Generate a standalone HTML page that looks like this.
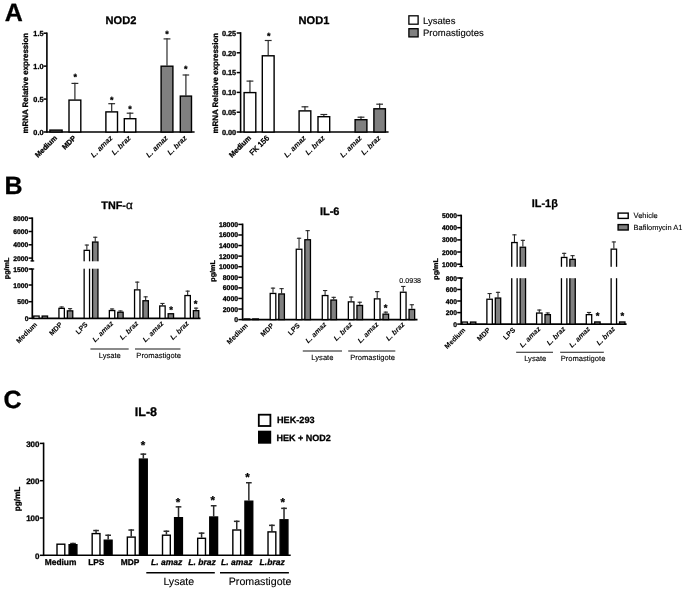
<!DOCTYPE html>
<html lang="en">
<head>
<meta charset="utf-8">
<title>NOD2 / NOD1 expression and cytokine production</title>
<style>
html,body{margin:0;padding:0;background:#fff;}
body{width:685px;height:592px;overflow:hidden;}
svg{display:block;font-family:"Liberation Sans", sans-serif;}
text{stroke:#000;stroke-width:0.3px;stroke-linejoin:round;}
text.n{stroke-width:0.12px;}
text.l{stroke-width:0.08px;}
</style>
</head>
<body>
<svg width="685" height="592" viewBox="0 0 685 592" text-rendering="geometricPrecision">
<defs><filter id="soft" x="0" y="0" width="685" height="592" filterUnits="userSpaceOnUse"><feGaussianBlur stdDeviation="0.38"/></filter></defs>
<rect x="0" y="0" width="685" height="592" fill="#fff"/>
<g filter="url(#soft)">
<text x="4.7" y="20.9" font-size="25" font-weight="bold" font-style="normal" text-anchor="start" fill="#000">A</text>
<text x="4.4" y="194.3" font-size="25" font-weight="bold" font-style="normal" text-anchor="start" fill="#000">B</text>
<text x="3.4" y="408.4" font-size="25" font-weight="bold" font-style="normal" text-anchor="start" fill="#000">C</text>
<line x1="46.9" y1="32.4" x2="46.9" y2="132.8" stroke="#000" stroke-width="1.6"/>
<line x1="46.9" y1="132" x2="194.6" y2="132" stroke="#000" stroke-width="1.6"/>
<line x1="43.5" y1="33.2" x2="46.9" y2="33.2" stroke="#000" stroke-width="1.5"/>
<text x="43.5" y="36" font-size="7.3" font-weight="bold" font-style="normal" text-anchor="end" fill="#000">1.5</text>
<line x1="43.5" y1="66.13" x2="46.9" y2="66.13" stroke="#000" stroke-width="1.5"/>
<text x="43.5" y="68.93" font-size="7.3" font-weight="bold" font-style="normal" text-anchor="end" fill="#000">1.0</text>
<line x1="43.5" y1="99.07" x2="46.9" y2="99.07" stroke="#000" stroke-width="1.5"/>
<text x="43.5" y="101.87" font-size="7.3" font-weight="bold" font-style="normal" text-anchor="end" fill="#000">0.5</text>
<line x1="43.5" y1="132" x2="46.9" y2="132" stroke="#000" stroke-width="1.5"/>
<text x="43.5" y="134.8" font-size="7.3" font-weight="bold" font-style="normal" text-anchor="end" fill="#000">0.0</text>
<text x="121" y="24" font-size="11.1" font-weight="bold" font-style="normal" text-anchor="middle" fill="#000">NOD2</text>
<text x="28.2" y="83.2" font-size="7.95" font-weight="bold" font-style="normal" text-anchor="middle" fill="#000" transform="rotate(-90 28.2 83.2)">mRNA Relative expression</text>
<rect x="49.9" y="130.1" width="12.2" height="1.9" fill="#808080" stroke="#000" stroke-width="1.4"/>
<line x1="74.9" y1="99.4" x2="74.9" y2="82.8" stroke="#2a2a2a" stroke-width="1.2"/>
<line x1="71.47" y1="83.4" x2="78.33" y2="83.4" stroke="#2a2a2a" stroke-width="1.2"/>
<rect x="69" y="100.1" width="11.8" height="31.9" fill="#fff" stroke="#000" stroke-width="1.4"/>
<line x1="111.7" y1="111.2" x2="111.7" y2="103.1" stroke="#2a2a2a" stroke-width="1.2"/>
<line x1="108.32" y1="103.7" x2="115.08" y2="103.7" stroke="#2a2a2a" stroke-width="1.2"/>
<rect x="105.9" y="111.9" width="11.6" height="20.1" fill="#fff" stroke="#000" stroke-width="1.4"/>
<line x1="130.05" y1="118" x2="130.05" y2="112.6" stroke="#2a2a2a" stroke-width="1.2"/>
<line x1="126.7" y1="113.2" x2="133.4" y2="113.2" stroke="#2a2a2a" stroke-width="1.2"/>
<rect x="124.3" y="118.7" width="11.5" height="13.3" fill="#fff" stroke="#000" stroke-width="1.4"/>
<line x1="167" y1="65.5" x2="167" y2="38.3" stroke="#2a2a2a" stroke-width="1.2"/>
<line x1="163.57" y1="38.9" x2="170.43" y2="38.9" stroke="#2a2a2a" stroke-width="1.2"/>
<rect x="161.1" y="66.2" width="11.8" height="65.8" fill="#808080" stroke="#000" stroke-width="1.4"/>
<line x1="185.9" y1="95.4" x2="185.9" y2="74.4" stroke="#2a2a2a" stroke-width="1.2"/>
<line x1="182.62" y1="75" x2="189.18" y2="75" stroke="#2a2a2a" stroke-width="1.2"/>
<rect x="180.3" y="96.1" width="11.2" height="35.9" fill="#808080" stroke="#000" stroke-width="1.4"/>
<text x="75.2" y="80.47" font-size="9" font-weight="bold" font-style="normal" text-anchor="middle" fill="#000">*</text>
<text x="111.7" y="103.27" font-size="9" font-weight="bold" font-style="normal" text-anchor="middle" fill="#000">*</text>
<text x="130.1" y="111.77" font-size="9" font-weight="bold" font-style="normal" text-anchor="middle" fill="#000">*</text>
<text x="167" y="37.37" font-size="9" font-weight="bold" font-style="normal" text-anchor="middle" fill="#000">*</text>
<text x="185.8" y="71.77" font-size="9" font-weight="bold" font-style="normal" text-anchor="middle" fill="#000">*</text>
<text x="57.5" y="138.5" font-size="7.3" font-weight="bold" font-style="normal" text-anchor="end" fill="#000" transform="rotate(-45 57.5 138.5)">Medium</text>
<text x="76.4" y="138.5" font-size="7.3" font-weight="bold" font-style="normal" text-anchor="end" fill="#000" transform="rotate(-45 76.4 138.5)">MDP</text>
<text x="113.2" y="138.5" font-size="7.5" font-weight="bold" font-style="italic" text-anchor="end" fill="#000" transform="rotate(-45 113.2 138.5)" class="l">L. amaz</text>
<text x="131.5" y="138.5" font-size="7.5" font-weight="bold" font-style="italic" text-anchor="end" fill="#000" transform="rotate(-45 131.5 138.5)" class="l">L. braz</text>
<text x="168.5" y="138.5" font-size="7.5" font-weight="bold" font-style="italic" text-anchor="end" fill="#000" transform="rotate(-45 168.5 138.5)" class="l">L. amaz</text>
<text x="187.4" y="138.5" font-size="7.5" font-weight="bold" font-style="italic" text-anchor="end" fill="#000" transform="rotate(-45 187.4 138.5)" class="l">L. braz</text>
<line x1="240.6" y1="32.2" x2="240.6" y2="132.8" stroke="#000" stroke-width="1.6"/>
<line x1="240.6" y1="132" x2="388.6" y2="132" stroke="#000" stroke-width="1.6"/>
<line x1="236.7" y1="33" x2="240.6" y2="33" stroke="#000" stroke-width="1.5"/>
<text x="236.1" y="35.8" font-size="7.3" font-weight="bold" font-style="normal" text-anchor="end" fill="#000">0.25</text>
<line x1="236.7" y1="52.8" x2="240.6" y2="52.8" stroke="#000" stroke-width="1.5"/>
<text x="236.1" y="55.6" font-size="7.3" font-weight="bold" font-style="normal" text-anchor="end" fill="#000">0.20</text>
<line x1="236.7" y1="72.6" x2="240.6" y2="72.6" stroke="#000" stroke-width="1.5"/>
<text x="236.1" y="75.4" font-size="7.3" font-weight="bold" font-style="normal" text-anchor="end" fill="#000">0.15</text>
<line x1="236.7" y1="92.4" x2="240.6" y2="92.4" stroke="#000" stroke-width="1.5"/>
<text x="236.1" y="95.2" font-size="7.3" font-weight="bold" font-style="normal" text-anchor="end" fill="#000">0.10</text>
<line x1="236.7" y1="112.2" x2="240.6" y2="112.2" stroke="#000" stroke-width="1.5"/>
<text x="236.1" y="115" font-size="7.3" font-weight="bold" font-style="normal" text-anchor="end" fill="#000">0.05</text>
<line x1="236.7" y1="132" x2="240.6" y2="132" stroke="#000" stroke-width="1.5"/>
<text x="236.1" y="134.8" font-size="7.3" font-weight="bold" font-style="normal" text-anchor="end" fill="#000">0.00</text>
<text x="314" y="23.8" font-size="11.1" font-weight="bold" font-style="normal" text-anchor="middle" fill="#000">NOD1</text>
<text x="218" y="83.2" font-size="7.95" font-weight="bold" font-style="normal" text-anchor="middle" fill="#000" transform="rotate(-90 218 83.2)">mRNA Relative expression</text>
<line x1="249.95" y1="91.9" x2="249.95" y2="80.5" stroke="#2a2a2a" stroke-width="1.2"/>
<line x1="246.54" y1="81.1" x2="253.36" y2="81.1" stroke="#2a2a2a" stroke-width="1.2"/>
<rect x="244.1" y="92.6" width="11.7" height="39.4" fill="#fff" stroke="#000" stroke-width="1.4"/>
<line x1="268.2" y1="55.1" x2="268.2" y2="39.9" stroke="#2a2a2a" stroke-width="1.2"/>
<line x1="264.77" y1="40.5" x2="271.63" y2="40.5" stroke="#2a2a2a" stroke-width="1.2"/>
<rect x="262.3" y="55.8" width="11.8" height="76.2" fill="#fff" stroke="#000" stroke-width="1.4"/>
<line x1="304.95" y1="110.2" x2="304.95" y2="106.2" stroke="#2a2a2a" stroke-width="1.2"/>
<line x1="301.54" y1="106.8" x2="308.36" y2="106.8" stroke="#2a2a2a" stroke-width="1.2"/>
<rect x="299.1" y="110.9" width="11.7" height="21.1" fill="#fff" stroke="#000" stroke-width="1.4"/>
<line x1="323.85" y1="116" x2="323.85" y2="113.9" stroke="#2a2a2a" stroke-width="1.2"/>
<line x1="320.44" y1="114.5" x2="327.26" y2="114.5" stroke="#2a2a2a" stroke-width="1.2"/>
<rect x="318" y="116.7" width="11.7" height="15.3" fill="#fff" stroke="#000" stroke-width="1.4"/>
<line x1="361" y1="119" x2="361" y2="116.6" stroke="#2a2a2a" stroke-width="1.2"/>
<line x1="357.57" y1="117.2" x2="364.43" y2="117.2" stroke="#2a2a2a" stroke-width="1.2"/>
<rect x="355.1" y="119.7" width="11.8" height="12.3" fill="#808080" stroke="#000" stroke-width="1.4"/>
<line x1="379.65" y1="108.1" x2="379.65" y2="103.6" stroke="#2a2a2a" stroke-width="1.2"/>
<line x1="376.3" y1="104.2" x2="383" y2="104.2" stroke="#2a2a2a" stroke-width="1.2"/>
<rect x="373.9" y="108.8" width="11.5" height="23.2" fill="#808080" stroke="#000" stroke-width="1.4"/>
<text x="268.8" y="39.27" font-size="9" font-weight="bold" font-style="normal" text-anchor="middle" fill="#000">*</text>
<text x="251.5" y="138.5" font-size="7.3" font-weight="bold" font-style="normal" text-anchor="end" fill="#000" transform="rotate(-45 251.5 138.5)">Medium</text>
<text x="269.7" y="138.5" font-size="7.6" font-weight="normal" font-style="normal" text-anchor="end" fill="#000" transform="rotate(-45 269.7 138.5)" style="stroke-width:0.42px" class="n">FK 156</text>
<text x="306.5" y="138.5" font-size="7.5" font-weight="bold" font-style="italic" text-anchor="end" fill="#000" transform="rotate(-45 306.5 138.5)" class="l">L. amaz</text>
<text x="325.3" y="138.5" font-size="7.5" font-weight="bold" font-style="italic" text-anchor="end" fill="#000" transform="rotate(-45 325.3 138.5)" class="l">L. braz</text>
<text x="362.5" y="138.5" font-size="7.5" font-weight="bold" font-style="italic" text-anchor="end" fill="#000" transform="rotate(-45 362.5 138.5)" class="l">L. amaz</text>
<text x="381.1" y="138.5" font-size="7.5" font-weight="bold" font-style="italic" text-anchor="end" fill="#000" transform="rotate(-45 381.1 138.5)" class="l">L. braz</text>
<rect x="408.9" y="15.8" width="9.2" height="8.4" fill="#fff" stroke="#000" stroke-width="1.3"/>
<rect x="408.9" y="28.7" width="9.2" height="8.2" fill="#808080" stroke="#000" stroke-width="1.3"/>
<text x="423" y="23.5" font-size="9.5" font-weight="normal" font-style="normal" text-anchor="start" fill="#000" class="n">Lysates</text>
<text x="423" y="35.8" font-size="9.5" font-weight="normal" font-style="normal" text-anchor="start" fill="#000" class="n">Promastigotes</text>
<line x1="32.3" y1="217.35" x2="32.3" y2="261.3" stroke="#000" stroke-width="1.7"/>
<line x1="32.3" y1="269" x2="32.3" y2="319.15" stroke="#000" stroke-width="1.7"/>
<line x1="30.5" y1="260.9" x2="34.2" y2="260.9" stroke="#000" stroke-width="1.3"/>
<line x1="30.5" y1="269" x2="34.2" y2="269" stroke="#000" stroke-width="1.3"/>
<line x1="32.3" y1="318.3" x2="200.5" y2="318.3" stroke="#000" stroke-width="1.7"/>
<line x1="28.6" y1="218.2" x2="32.3" y2="218.2" stroke="#000" stroke-width="1.5"/>
<text x="28.4" y="220.7" font-size="6.75" font-weight="bold" font-style="normal" text-anchor="end" fill="#000">8000</text>
<line x1="28.6" y1="231.5" x2="32.3" y2="231.5" stroke="#000" stroke-width="1.5"/>
<text x="28.4" y="234" font-size="6.75" font-weight="bold" font-style="normal" text-anchor="end" fill="#000">6000</text>
<line x1="28.6" y1="244.8" x2="32.3" y2="244.8" stroke="#000" stroke-width="1.5"/>
<text x="28.4" y="247.3" font-size="6.75" font-weight="bold" font-style="normal" text-anchor="end" fill="#000">4000</text>
<line x1="28.6" y1="258.1" x2="32.3" y2="258.1" stroke="#000" stroke-width="1.5"/>
<text x="28.4" y="260.6" font-size="6.75" font-weight="bold" font-style="normal" text-anchor="end" fill="#000">2000</text>
<line x1="28.6" y1="269" x2="32.3" y2="269" stroke="#000" stroke-width="1.5"/>
<text x="28.4" y="271.5" font-size="6.75" font-weight="bold" font-style="normal" text-anchor="end" fill="#000">1500</text>
<line x1="28.6" y1="285" x2="32.3" y2="285" stroke="#000" stroke-width="1.5"/>
<text x="28.4" y="287.5" font-size="6.75" font-weight="bold" font-style="normal" text-anchor="end" fill="#000">1000</text>
<line x1="28.6" y1="301.7" x2="32.3" y2="301.7" stroke="#000" stroke-width="1.5"/>
<text x="28.4" y="304.2" font-size="6.75" font-weight="bold" font-style="normal" text-anchor="end" fill="#000">500</text>
<line x1="28.6" y1="318.3" x2="32.3" y2="318.3" stroke="#000" stroke-width="1.5"/>
<text x="28.4" y="320.8" font-size="6.75" font-weight="bold" font-style="normal" text-anchor="end" fill="#000">0</text>
<text transform="translate(9.3 268.4) rotate(-90) scale(1.04 1)" font-size="6.9" font-weight="bold" text-anchor="middle">pg/mL</text>
<text x="101.3" y="209.1" font-size="10.8" font-weight="bold">TNF-<tspan font-weight="normal" font-size="11.7">&#945;</tspan></text>
<rect x="33.75" y="316.05" width="5.4" height="2.25" fill="#fff" stroke="#000" stroke-width="1.3"/>
<rect x="42.15" y="316.05" width="5.4" height="2.25" fill="#808080" stroke="#000" stroke-width="1.3"/>
<line x1="61.65" y1="307.7" x2="61.65" y2="306.4" stroke="#2a2a2a" stroke-width="1.1"/>
<line x1="59.57" y1="306.95" x2="63.73" y2="306.95" stroke="#2a2a2a" stroke-width="1.1"/>
<rect x="58.95" y="308.35" width="5.4" height="9.95" fill="#fff" stroke="#000" stroke-width="1.3"/>
<line x1="70.05" y1="310.2" x2="70.05" y2="308.1" stroke="#2a2a2a" stroke-width="1.1"/>
<line x1="67.97" y1="308.65" x2="72.13" y2="308.65" stroke="#2a2a2a" stroke-width="1.1"/>
<rect x="67.35" y="310.85" width="5.4" height="7.45" fill="#808080" stroke="#000" stroke-width="1.3"/>
<line x1="86.85" y1="249.7" x2="86.85" y2="244.5" stroke="#2a2a2a" stroke-width="1.1"/>
<line x1="84.77" y1="245.05" x2="88.93" y2="245.05" stroke="#2a2a2a" stroke-width="1.1"/>
<rect x="84.15" y="250.35" width="5.4" height="67.95" fill="#fff" stroke="#000" stroke-width="1.3"/>
<line x1="95.25" y1="241.4" x2="95.25" y2="236.7" stroke="#2a2a2a" stroke-width="1.1"/>
<line x1="93.17" y1="237.25" x2="97.33" y2="237.25" stroke="#2a2a2a" stroke-width="1.1"/>
<rect x="92.55" y="242.05" width="5.4" height="76.25" fill="#808080" stroke="#000" stroke-width="1.3"/>
<line x1="112.05" y1="309.9" x2="112.05" y2="308.4" stroke="#2a2a2a" stroke-width="1.1"/>
<line x1="109.97" y1="308.95" x2="114.13" y2="308.95" stroke="#2a2a2a" stroke-width="1.1"/>
<rect x="109.35" y="310.55" width="5.4" height="7.75" fill="#fff" stroke="#000" stroke-width="1.3"/>
<line x1="120.45" y1="311.6" x2="120.45" y2="310.4" stroke="#2a2a2a" stroke-width="1.1"/>
<line x1="118.37" y1="310.95" x2="122.53" y2="310.95" stroke="#2a2a2a" stroke-width="1.1"/>
<rect x="117.75" y="312.25" width="5.4" height="6.05" fill="#808080" stroke="#000" stroke-width="1.3"/>
<line x1="137.25" y1="289.2" x2="137.25" y2="281.6" stroke="#2a2a2a" stroke-width="1.1"/>
<line x1="135.17" y1="282.15" x2="139.33" y2="282.15" stroke="#2a2a2a" stroke-width="1.1"/>
<rect x="134.55" y="289.85" width="5.4" height="28.45" fill="#fff" stroke="#000" stroke-width="1.3"/>
<line x1="145.65" y1="300.1" x2="145.65" y2="296.3" stroke="#2a2a2a" stroke-width="1.1"/>
<line x1="143.57" y1="296.85" x2="147.73" y2="296.85" stroke="#2a2a2a" stroke-width="1.1"/>
<rect x="142.95" y="300.75" width="5.4" height="17.55" fill="#808080" stroke="#000" stroke-width="1.3"/>
<line x1="162.45" y1="305.3" x2="162.45" y2="302.9" stroke="#2a2a2a" stroke-width="1.1"/>
<line x1="160.37" y1="303.45" x2="164.53" y2="303.45" stroke="#2a2a2a" stroke-width="1.1"/>
<rect x="159.75" y="305.95" width="5.4" height="12.35" fill="#fff" stroke="#000" stroke-width="1.3"/>
<rect x="168.15" y="313.75" width="5.4" height="4.55" fill="#808080" stroke="#000" stroke-width="1.3"/>
<line x1="187.65" y1="294.9" x2="187.65" y2="290.6" stroke="#2a2a2a" stroke-width="1.1"/>
<line x1="185.57" y1="291.15" x2="189.73" y2="291.15" stroke="#2a2a2a" stroke-width="1.1"/>
<rect x="184.95" y="295.55" width="5.4" height="22.75" fill="#fff" stroke="#000" stroke-width="1.3"/>
<line x1="196.05" y1="310" x2="196.05" y2="307.6" stroke="#2a2a2a" stroke-width="1.1"/>
<line x1="193.97" y1="308.15" x2="198.13" y2="308.15" stroke="#2a2a2a" stroke-width="1.1"/>
<rect x="193.35" y="310.65" width="5.4" height="7.65" fill="#808080" stroke="#000" stroke-width="1.3"/>
<rect x="82" y="261.3" width="18.5" height="7.4" fill="#fff"/>
<text x="171.2" y="313.26" font-size="9.5" font-weight="bold" font-style="normal" text-anchor="middle" fill="#000">*</text>
<text x="195.6" y="307.36" font-size="9.5" font-weight="bold" font-style="normal" text-anchor="middle" fill="#000">*</text>
<text x="37.7" y="325" font-size="7" font-weight="bold" font-style="normal" text-anchor="end" fill="#000" transform="rotate(-45 37.7 325)" class="l">Medium</text>
<text x="62.9" y="325" font-size="7" font-weight="bold" font-style="normal" text-anchor="end" fill="#000" transform="rotate(-45 62.9 325)" class="l">MDP</text>
<text x="88.1" y="325" font-size="7" font-weight="bold" font-style="normal" text-anchor="end" fill="#000" transform="rotate(-45 88.1 325)" class="l">LPS</text>
<text x="113.7" y="324" font-size="7.15" font-weight="bold" font-style="italic" text-anchor="end" fill="#000" transform="rotate(-45 113.7 324)" class="l">L. amaz</text>
<text x="138.9" y="324" font-size="7.15" font-weight="bold" font-style="italic" text-anchor="end" fill="#000" transform="rotate(-45 138.9 324)" class="l">L. braz</text>
<text x="164.1" y="324" font-size="7.15" font-weight="bold" font-style="italic" text-anchor="end" fill="#000" transform="rotate(-45 164.1 324)" class="l">L. amaz</text>
<text x="189.3" y="324" font-size="7.15" font-weight="bold" font-style="italic" text-anchor="end" fill="#000" transform="rotate(-45 189.3 324)" class="l">L. braz</text>
<line x1="90.4" y1="349" x2="128.7" y2="349" stroke="#1a1a1a" stroke-width="1.15"/>
<text x="109.8" y="357.8" font-size="7.6" font-weight="normal" font-style="normal" text-anchor="middle" fill="#000" class="n">Lysate</text>
<line x1="135" y1="349" x2="180.4" y2="349" stroke="#1a1a1a" stroke-width="1.15"/>
<text x="158.7" y="357.8" font-size="7.6" font-weight="normal" font-style="normal" text-anchor="middle" fill="#000" class="n">Promastigote</text>
<line x1="242.6" y1="223.55" x2="242.6" y2="320.45" stroke="#000" stroke-width="1.7"/>
<line x1="242.6" y1="319.6" x2="417.5" y2="319.6" stroke="#000" stroke-width="1.7"/>
<line x1="238.3" y1="224.4" x2="242.6" y2="224.4" stroke="#000" stroke-width="1.5"/>
<text x="238" y="226.9" font-size="6.85" font-weight="bold" font-style="normal" text-anchor="end" fill="#000">18000</text>
<line x1="238.3" y1="234.98" x2="242.6" y2="234.98" stroke="#000" stroke-width="1.5"/>
<text x="238" y="237.48" font-size="6.85" font-weight="bold" font-style="normal" text-anchor="end" fill="#000">16000</text>
<line x1="238.3" y1="245.56" x2="242.6" y2="245.56" stroke="#000" stroke-width="1.5"/>
<text x="238" y="248.06" font-size="6.85" font-weight="bold" font-style="normal" text-anchor="end" fill="#000">14000</text>
<line x1="238.3" y1="256.13" x2="242.6" y2="256.13" stroke="#000" stroke-width="1.5"/>
<text x="238" y="258.63" font-size="6.85" font-weight="bold" font-style="normal" text-anchor="end" fill="#000">12000</text>
<line x1="238.3" y1="266.71" x2="242.6" y2="266.71" stroke="#000" stroke-width="1.5"/>
<text x="238" y="269.21" font-size="6.85" font-weight="bold" font-style="normal" text-anchor="end" fill="#000">10000</text>
<line x1="238.3" y1="277.29" x2="242.6" y2="277.29" stroke="#000" stroke-width="1.5"/>
<text x="238" y="279.79" font-size="6.85" font-weight="bold" font-style="normal" text-anchor="end" fill="#000">8000</text>
<line x1="238.3" y1="287.87" x2="242.6" y2="287.87" stroke="#000" stroke-width="1.5"/>
<text x="238" y="290.37" font-size="6.85" font-weight="bold" font-style="normal" text-anchor="end" fill="#000">6000</text>
<line x1="238.3" y1="298.44" x2="242.6" y2="298.44" stroke="#000" stroke-width="1.5"/>
<text x="238" y="300.94" font-size="6.85" font-weight="bold" font-style="normal" text-anchor="end" fill="#000">4000</text>
<line x1="238.3" y1="309.02" x2="242.6" y2="309.02" stroke="#000" stroke-width="1.5"/>
<text x="238" y="311.52" font-size="6.85" font-weight="bold" font-style="normal" text-anchor="end" fill="#000">2000</text>
<line x1="238.3" y1="319.6" x2="242.6" y2="319.6" stroke="#000" stroke-width="1.5"/>
<text x="238" y="322.1" font-size="6.85" font-weight="bold" font-style="normal" text-anchor="end" fill="#000">0</text>
<text transform="translate(214.5 271) rotate(-90) scale(1.04 1)" font-size="6.9" font-weight="bold" text-anchor="middle">pg/mL</text>
<text x="329.7" y="215.2" font-size="11" font-weight="bold" font-style="normal" text-anchor="middle" fill="#000">IL-6</text>
<rect x="244.15" y="318.95" width="5.6" height="0.65" fill="#fff" stroke="#000" stroke-width="1.3"/>
<rect x="252.75" y="318.95" width="5.6" height="0.65" fill="#808080" stroke="#000" stroke-width="1.3"/>
<line x1="273" y1="292.8" x2="273" y2="287.6" stroke="#2a2a2a" stroke-width="1.1"/>
<line x1="270.86" y1="288.15" x2="275.14" y2="288.15" stroke="#2a2a2a" stroke-width="1.1"/>
<rect x="270.2" y="293.45" width="5.6" height="26.15" fill="#fff" stroke="#000" stroke-width="1.3"/>
<line x1="281.6" y1="293.3" x2="281.6" y2="288.1" stroke="#2a2a2a" stroke-width="1.1"/>
<line x1="279.46" y1="288.65" x2="283.74" y2="288.65" stroke="#2a2a2a" stroke-width="1.1"/>
<rect x="278.8" y="293.95" width="5.6" height="25.65" fill="#808080" stroke="#000" stroke-width="1.3"/>
<line x1="299.05" y1="248.6" x2="299.05" y2="237.7" stroke="#2a2a2a" stroke-width="1.1"/>
<line x1="296.91" y1="238.25" x2="301.19" y2="238.25" stroke="#2a2a2a" stroke-width="1.1"/>
<rect x="296.25" y="249.25" width="5.6" height="70.35" fill="#fff" stroke="#000" stroke-width="1.3"/>
<line x1="307.65" y1="239.1" x2="307.65" y2="230.1" stroke="#2a2a2a" stroke-width="1.1"/>
<line x1="305.51" y1="230.65" x2="309.79" y2="230.65" stroke="#2a2a2a" stroke-width="1.1"/>
<rect x="304.85" y="239.75" width="5.6" height="79.85" fill="#808080" stroke="#000" stroke-width="1.3"/>
<line x1="325.1" y1="294.9" x2="325.1" y2="290" stroke="#2a2a2a" stroke-width="1.1"/>
<line x1="322.96" y1="290.55" x2="327.24" y2="290.55" stroke="#2a2a2a" stroke-width="1.1"/>
<rect x="322.3" y="295.55" width="5.6" height="24.05" fill="#fff" stroke="#000" stroke-width="1.3"/>
<line x1="333.7" y1="299.4" x2="333.7" y2="296.8" stroke="#2a2a2a" stroke-width="1.1"/>
<line x1="331.56" y1="297.35" x2="335.84" y2="297.35" stroke="#2a2a2a" stroke-width="1.1"/>
<rect x="330.9" y="300.05" width="5.6" height="19.55" fill="#808080" stroke="#000" stroke-width="1.3"/>
<line x1="351.15" y1="301.2" x2="351.15" y2="296.5" stroke="#2a2a2a" stroke-width="1.1"/>
<line x1="349.01" y1="297.05" x2="353.29" y2="297.05" stroke="#2a2a2a" stroke-width="1.1"/>
<rect x="348.35" y="301.85" width="5.6" height="17.75" fill="#fff" stroke="#000" stroke-width="1.3"/>
<line x1="359.75" y1="304.8" x2="359.75" y2="301.7" stroke="#2a2a2a" stroke-width="1.1"/>
<line x1="357.61" y1="302.25" x2="361.89" y2="302.25" stroke="#2a2a2a" stroke-width="1.1"/>
<rect x="356.95" y="305.45" width="5.6" height="14.15" fill="#808080" stroke="#000" stroke-width="1.3"/>
<line x1="377.2" y1="298.2" x2="377.2" y2="291.1" stroke="#2a2a2a" stroke-width="1.1"/>
<line x1="375.06" y1="291.65" x2="379.34" y2="291.65" stroke="#2a2a2a" stroke-width="1.1"/>
<rect x="374.4" y="298.85" width="5.6" height="20.75" fill="#fff" stroke="#000" stroke-width="1.3"/>
<line x1="385.8" y1="313.5" x2="385.8" y2="311.6" stroke="#2a2a2a" stroke-width="1.1"/>
<line x1="383.66" y1="312.15" x2="387.94" y2="312.15" stroke="#2a2a2a" stroke-width="1.1"/>
<rect x="383" y="314.15" width="5.6" height="5.45" fill="#808080" stroke="#000" stroke-width="1.3"/>
<line x1="403.25" y1="291.6" x2="403.25" y2="285.9" stroke="#2a2a2a" stroke-width="1.1"/>
<line x1="401.11" y1="286.45" x2="405.39" y2="286.45" stroke="#2a2a2a" stroke-width="1.1"/>
<rect x="400.45" y="292.25" width="5.6" height="27.35" fill="#fff" stroke="#000" stroke-width="1.3"/>
<line x1="411.85" y1="308.8" x2="411.85" y2="304.2" stroke="#2a2a2a" stroke-width="1.1"/>
<line x1="409.71" y1="304.75" x2="413.99" y2="304.75" stroke="#2a2a2a" stroke-width="1.1"/>
<rect x="409.05" y="309.45" width="5.6" height="10.15" fill="#808080" stroke="#000" stroke-width="1.3"/>
<text x="385.6" y="310.96" font-size="9.5" font-weight="bold" font-style="normal" text-anchor="middle" fill="#000">*</text>
<text x="410.2" y="282.9" font-size="7.1" font-weight="normal" font-style="normal" text-anchor="middle" fill="#000" class="n">0.0938</text>
<text x="248.3" y="326" font-size="7" font-weight="bold" font-style="normal" text-anchor="end" fill="#000" transform="rotate(-45 248.3 326)" class="l">Medium</text>
<text x="274.35" y="326" font-size="7" font-weight="bold" font-style="normal" text-anchor="end" fill="#000" transform="rotate(-45 274.35 326)" class="l">MDP</text>
<text x="300.4" y="326" font-size="7" font-weight="bold" font-style="normal" text-anchor="end" fill="#000" transform="rotate(-45 300.4 326)" class="l">LPS</text>
<text x="326.85" y="325" font-size="7.15" font-weight="bold" font-style="italic" text-anchor="end" fill="#000" transform="rotate(-45 326.85 325)" class="l">L. amaz</text>
<text x="352.9" y="325" font-size="7.15" font-weight="bold" font-style="italic" text-anchor="end" fill="#000" transform="rotate(-45 352.9 325)" class="l">L. braz</text>
<text x="378.95" y="325" font-size="7.15" font-weight="bold" font-style="italic" text-anchor="end" fill="#000" transform="rotate(-45 378.95 325)" class="l">L. amaz</text>
<text x="405" y="325" font-size="7.15" font-weight="bold" font-style="italic" text-anchor="end" fill="#000" transform="rotate(-45 405 325)" class="l">L. braz</text>
<line x1="302.8" y1="351" x2="342" y2="351" stroke="#1a1a1a" stroke-width="1.15"/>
<text x="322.4" y="360.4" font-size="7.6" font-weight="normal" font-style="normal" text-anchor="middle" fill="#000" class="n">Lysate</text>
<line x1="348.2" y1="351" x2="395.3" y2="351" stroke="#1a1a1a" stroke-width="1.15"/>
<text x="372.6" y="360.4" font-size="7.6" font-weight="normal" font-style="normal" text-anchor="middle" fill="#000" class="n">Promastigote</text>
<line x1="461.2" y1="214.65" x2="461.2" y2="266.6" stroke="#000" stroke-width="1.7"/>
<line x1="461.2" y1="278" x2="461.2" y2="324.95" stroke="#000" stroke-width="1.7"/>
<line x1="459.4" y1="266.5" x2="463.1" y2="266.5" stroke="#000" stroke-width="1.3"/>
<line x1="459.4" y1="278" x2="463.1" y2="278" stroke="#000" stroke-width="1.3"/>
<line x1="461.2" y1="324.1" x2="626.6" y2="324.1" stroke="#000" stroke-width="1.7"/>
<line x1="457.2" y1="215.5" x2="461.2" y2="215.5" stroke="#000" stroke-width="1.5"/>
<text x="457" y="218" font-size="6.75" font-weight="bold" font-style="normal" text-anchor="end" fill="#000">5000</text>
<line x1="457.2" y1="227.7" x2="461.2" y2="227.7" stroke="#000" stroke-width="1.5"/>
<text x="457" y="230.2" font-size="6.75" font-weight="bold" font-style="normal" text-anchor="end" fill="#000">4000</text>
<line x1="457.2" y1="239.9" x2="461.2" y2="239.9" stroke="#000" stroke-width="1.5"/>
<text x="457" y="242.4" font-size="6.75" font-weight="bold" font-style="normal" text-anchor="end" fill="#000">3000</text>
<line x1="457.2" y1="252" x2="461.2" y2="252" stroke="#000" stroke-width="1.5"/>
<text x="457" y="254.5" font-size="6.75" font-weight="bold" font-style="normal" text-anchor="end" fill="#000">2000</text>
<line x1="457.2" y1="264.2" x2="461.2" y2="264.2" stroke="#000" stroke-width="1.5"/>
<text x="457" y="266.7" font-size="6.75" font-weight="bold" font-style="normal" text-anchor="end" fill="#000">1000</text>
<line x1="457.2" y1="278" x2="461.2" y2="278" stroke="#000" stroke-width="1.5"/>
<text x="457" y="280.5" font-size="6.75" font-weight="bold" font-style="normal" text-anchor="end" fill="#000">800</text>
<line x1="457.2" y1="289.5" x2="461.2" y2="289.5" stroke="#000" stroke-width="1.5"/>
<text x="457" y="292" font-size="6.75" font-weight="bold" font-style="normal" text-anchor="end" fill="#000">600</text>
<line x1="457.2" y1="301" x2="461.2" y2="301" stroke="#000" stroke-width="1.5"/>
<text x="457" y="303.5" font-size="6.75" font-weight="bold" font-style="normal" text-anchor="end" fill="#000">400</text>
<line x1="457.2" y1="312.6" x2="461.2" y2="312.6" stroke="#000" stroke-width="1.5"/>
<text x="457" y="315.1" font-size="6.75" font-weight="bold" font-style="normal" text-anchor="end" fill="#000">200</text>
<line x1="457.2" y1="324.1" x2="461.2" y2="324.1" stroke="#000" stroke-width="1.5"/>
<text x="457" y="326.6" font-size="6.75" font-weight="bold" font-style="normal" text-anchor="end" fill="#000">0</text>
<text transform="translate(438.3 269) rotate(-90) scale(1.04 1)" font-size="6.9" font-weight="bold" text-anchor="middle">pg/mL</text>
<text x="531.8" y="206.8" font-size="10.9" font-weight="bold">IL-1&#946;</text>
<rect x="462.05" y="322.05" width="5.4" height="2.05" fill="#fff" stroke="#000" stroke-width="1.3"/>
<rect x="470.45" y="322.05" width="5.4" height="2.05" fill="#808080" stroke="#000" stroke-width="1.3"/>
<line x1="489.6" y1="298.6" x2="489.6" y2="293" stroke="#2a2a2a" stroke-width="1.1"/>
<line x1="487.52" y1="293.55" x2="491.68" y2="293.55" stroke="#2a2a2a" stroke-width="1.1"/>
<rect x="486.9" y="299.25" width="5.4" height="24.85" fill="#fff" stroke="#000" stroke-width="1.3"/>
<line x1="498" y1="297.4" x2="498" y2="291.8" stroke="#2a2a2a" stroke-width="1.1"/>
<line x1="495.92" y1="292.35" x2="500.08" y2="292.35" stroke="#2a2a2a" stroke-width="1.1"/>
<rect x="495.3" y="298.05" width="5.4" height="26.05" fill="#808080" stroke="#000" stroke-width="1.3"/>
<line x1="514.45" y1="241.9" x2="514.45" y2="234.3" stroke="#2a2a2a" stroke-width="1.1"/>
<line x1="512.37" y1="234.85" x2="516.53" y2="234.85" stroke="#2a2a2a" stroke-width="1.1"/>
<rect x="511.75" y="242.55" width="5.4" height="81.55" fill="#fff" stroke="#000" stroke-width="1.3"/>
<line x1="522.85" y1="246.6" x2="522.85" y2="239.8" stroke="#2a2a2a" stroke-width="1.1"/>
<line x1="520.77" y1="240.35" x2="524.93" y2="240.35" stroke="#2a2a2a" stroke-width="1.1"/>
<rect x="520.15" y="247.25" width="5.4" height="76.85" fill="#808080" stroke="#000" stroke-width="1.3"/>
<line x1="539.3" y1="312.4" x2="539.3" y2="309.5" stroke="#2a2a2a" stroke-width="1.1"/>
<line x1="537.22" y1="310.05" x2="541.38" y2="310.05" stroke="#2a2a2a" stroke-width="1.1"/>
<rect x="536.6" y="313.05" width="5.4" height="11.05" fill="#fff" stroke="#000" stroke-width="1.3"/>
<line x1="547.7" y1="314" x2="547.7" y2="312.4" stroke="#2a2a2a" stroke-width="1.1"/>
<line x1="545.62" y1="312.95" x2="549.78" y2="312.95" stroke="#2a2a2a" stroke-width="1.1"/>
<rect x="545" y="314.65" width="5.4" height="9.45" fill="#808080" stroke="#000" stroke-width="1.3"/>
<line x1="564.15" y1="256.8" x2="564.15" y2="252.8" stroke="#2a2a2a" stroke-width="1.1"/>
<line x1="562.07" y1="253.35" x2="566.23" y2="253.35" stroke="#2a2a2a" stroke-width="1.1"/>
<rect x="561.45" y="257.45" width="5.4" height="66.65" fill="#fff" stroke="#000" stroke-width="1.3"/>
<line x1="572.55" y1="258.7" x2="572.55" y2="255.1" stroke="#2a2a2a" stroke-width="1.1"/>
<line x1="570.47" y1="255.65" x2="574.63" y2="255.65" stroke="#2a2a2a" stroke-width="1.1"/>
<rect x="569.85" y="259.35" width="5.4" height="64.75" fill="#808080" stroke="#000" stroke-width="1.3"/>
<line x1="589" y1="314" x2="589" y2="311.9" stroke="#2a2a2a" stroke-width="1.1"/>
<line x1="586.92" y1="312.45" x2="591.08" y2="312.45" stroke="#2a2a2a" stroke-width="1.1"/>
<rect x="586.3" y="314.65" width="5.4" height="9.45" fill="#fff" stroke="#000" stroke-width="1.3"/>
<rect x="594.7" y="321.95" width="5.4" height="2.15" fill="#808080" stroke="#000" stroke-width="1.3"/>
<line x1="613.85" y1="248.5" x2="613.85" y2="241.4" stroke="#2a2a2a" stroke-width="1.1"/>
<line x1="611.77" y1="241.95" x2="615.93" y2="241.95" stroke="#2a2a2a" stroke-width="1.1"/>
<rect x="611.15" y="249.15" width="5.4" height="74.95" fill="#fff" stroke="#000" stroke-width="1.3"/>
<rect x="619.55" y="321.95" width="5.4" height="2.15" fill="#808080" stroke="#000" stroke-width="1.3"/>
<rect x="509.5" y="266.8" width="18.5" height="11.4" fill="#fff"/>
<rect x="559.3" y="266.8" width="18.5" height="11.4" fill="#fff"/>
<rect x="609.0" y="266.8" width="9.5" height="11.4" fill="#fff"/>
<text x="597.5" y="318.76" font-size="9.5" font-weight="bold" font-style="normal" text-anchor="middle" fill="#000">*</text>
<text x="622.3" y="319.06" font-size="9.5" font-weight="bold" font-style="normal" text-anchor="middle" fill="#000">*</text>
<text x="466" y="330.5" font-size="7" font-weight="bold" font-style="normal" text-anchor="end" fill="#000" transform="rotate(-45 466 330.5)" class="l">Medium</text>
<text x="490.85" y="330.5" font-size="7" font-weight="bold" font-style="normal" text-anchor="end" fill="#000" transform="rotate(-45 490.85 330.5)" class="l">MDP</text>
<text x="515.7" y="330.5" font-size="7" font-weight="bold" font-style="normal" text-anchor="end" fill="#000" transform="rotate(-45 515.7 330.5)" class="l">LPS</text>
<text x="540.95" y="329.5" font-size="7.15" font-weight="bold" font-style="italic" text-anchor="end" fill="#000" transform="rotate(-45 540.95 329.5)" class="l">L. amaz</text>
<text x="565.8" y="329.5" font-size="7.15" font-weight="bold" font-style="italic" text-anchor="end" fill="#000" transform="rotate(-45 565.8 329.5)" class="l">L. braz</text>
<text x="590.65" y="329.5" font-size="7.15" font-weight="bold" font-style="italic" text-anchor="end" fill="#000" transform="rotate(-45 590.65 329.5)" class="l">L. amaz</text>
<text x="615.5" y="329.5" font-size="7.15" font-weight="bold" font-style="italic" text-anchor="end" fill="#000" transform="rotate(-45 615.5 329.5)" class="l">L. braz</text>
<line x1="516.2" y1="352.2" x2="553" y2="352.2" stroke="#1a1a1a" stroke-width="1.15"/>
<text x="535.2" y="361" font-size="7.6" font-weight="normal" font-style="normal" text-anchor="middle" fill="#000" class="n">Lysate</text>
<line x1="560.2" y1="352.2" x2="603.8" y2="352.2" stroke="#1a1a1a" stroke-width="1.15"/>
<text x="583" y="361" font-size="7.6" font-weight="normal" font-style="normal" text-anchor="middle" fill="#000" class="n">Promastigote</text>
<rect x="618.1" y="213.1" width="10.1" height="5.3" fill="#fff" stroke="#000" stroke-width="1.4"/>
<rect x="618.1" y="224.6" width="10.1" height="5.4" fill="#808080" stroke="#000" stroke-width="1.4"/>
<text x="633.6" y="218" font-size="7.5" font-weight="normal" font-style="normal" text-anchor="start" fill="#000" class="n">Vehicle</text>
<text x="633.6" y="229.9" font-size="7.45" font-weight="normal" font-style="normal" text-anchor="start" fill="#000" class="n">Bafilomycin A1</text>
<line x1="43.6" y1="442.6" x2="43.6" y2="556.1" stroke="#000" stroke-width="1.6"/>
<line x1="43.6" y1="555.3" x2="290.7" y2="555.3" stroke="#000" stroke-width="1.6"/>
<line x1="39.9" y1="443.4" x2="43.6" y2="443.4" stroke="#000" stroke-width="1.5"/>
<text x="39.5" y="446.6" font-size="8" font-weight="bold" font-style="normal" text-anchor="end" fill="#000">300</text>
<line x1="39.9" y1="480.7" x2="43.6" y2="480.7" stroke="#000" stroke-width="1.5"/>
<text x="39.5" y="483.9" font-size="8" font-weight="bold" font-style="normal" text-anchor="end" fill="#000">200</text>
<line x1="39.9" y1="518" x2="43.6" y2="518" stroke="#000" stroke-width="1.5"/>
<text x="39.5" y="521.2" font-size="8" font-weight="bold" font-style="normal" text-anchor="end" fill="#000">100</text>
<line x1="39.9" y1="555.3" x2="43.6" y2="555.3" stroke="#000" stroke-width="1.5"/>
<text x="39.5" y="558.5" font-size="8" font-weight="bold" font-style="normal" text-anchor="end" fill="#000">0</text>
<text x="19.9" y="499" font-size="8.2" font-weight="bold" font-style="normal" text-anchor="middle" fill="#000" transform="rotate(-90 19.9 499)">pg/mL</text>
<text x="145.9" y="416" font-size="12.5" font-weight="bold" font-style="normal" text-anchor="middle" fill="#000">IL-8</text>
<rect x="57" y="544.2" width="7.8" height="11.1" fill="#fff" stroke="#000" stroke-width="1.4"/>
<line x1="73" y1="544" x2="73" y2="542.8" stroke="#2a2a2a" stroke-width="1.5"/>
<line x1="70.15" y1="543.55" x2="75.85" y2="543.55" stroke="#2a2a2a" stroke-width="1.5"/>
<rect x="69.1" y="544.7" width="7.8" height="10.6" fill="#000" stroke="#000" stroke-width="1.4"/>
<line x1="96.07" y1="532.9" x2="96.07" y2="529.8" stroke="#2a2a2a" stroke-width="1.5"/>
<line x1="93.22" y1="530.55" x2="98.92" y2="530.55" stroke="#2a2a2a" stroke-width="1.5"/>
<rect x="92.17" y="533.6" width="7.8" height="21.7" fill="#fff" stroke="#000" stroke-width="1.4"/>
<line x1="108.17" y1="539.5" x2="108.17" y2="534.5" stroke="#2a2a2a" stroke-width="1.5"/>
<line x1="105.32" y1="535.25" x2="111.02" y2="535.25" stroke="#2a2a2a" stroke-width="1.5"/>
<rect x="104.27" y="540.2" width="7.8" height="15.1" fill="#000" stroke="#000" stroke-width="1.4"/>
<line x1="131.24" y1="536.4" x2="131.24" y2="529.3" stroke="#2a2a2a" stroke-width="1.5"/>
<line x1="128.39" y1="530.05" x2="134.09" y2="530.05" stroke="#2a2a2a" stroke-width="1.5"/>
<rect x="127.34" y="537.1" width="7.8" height="18.2" fill="#fff" stroke="#000" stroke-width="1.4"/>
<line x1="143.34" y1="458.4" x2="143.34" y2="453.4" stroke="#2a2a2a" stroke-width="1.5"/>
<line x1="140.49" y1="454.15" x2="146.19" y2="454.15" stroke="#2a2a2a" stroke-width="1.5"/>
<rect x="139.44" y="459.1" width="7.8" height="96.2" fill="#000" stroke="#000" stroke-width="1.4"/>
<line x1="166.41" y1="534.5" x2="166.41" y2="530.5" stroke="#2a2a2a" stroke-width="1.5"/>
<line x1="163.56" y1="531.25" x2="169.26" y2="531.25" stroke="#2a2a2a" stroke-width="1.5"/>
<rect x="162.51" y="535.2" width="7.8" height="20.1" fill="#fff" stroke="#000" stroke-width="1.4"/>
<line x1="178.51" y1="517" x2="178.51" y2="506.1" stroke="#2a2a2a" stroke-width="1.5"/>
<line x1="175.66" y1="506.85" x2="181.36" y2="506.85" stroke="#2a2a2a" stroke-width="1.5"/>
<rect x="174.61" y="517.7" width="7.8" height="37.6" fill="#000" stroke="#000" stroke-width="1.4"/>
<line x1="201.58" y1="537.6" x2="201.58" y2="532.4" stroke="#2a2a2a" stroke-width="1.5"/>
<line x1="198.73" y1="533.15" x2="204.43" y2="533.15" stroke="#2a2a2a" stroke-width="1.5"/>
<rect x="197.68" y="538.3" width="7.8" height="17" fill="#fff" stroke="#000" stroke-width="1.4"/>
<line x1="213.68" y1="516.3" x2="213.68" y2="505" stroke="#2a2a2a" stroke-width="1.5"/>
<line x1="210.83" y1="505.75" x2="216.53" y2="505.75" stroke="#2a2a2a" stroke-width="1.5"/>
<rect x="209.78" y="517" width="7.8" height="38.3" fill="#000" stroke="#000" stroke-width="1.4"/>
<line x1="236.75" y1="529.3" x2="236.75" y2="520.6" stroke="#2a2a2a" stroke-width="1.5"/>
<line x1="233.9" y1="521.35" x2="239.6" y2="521.35" stroke="#2a2a2a" stroke-width="1.5"/>
<rect x="232.85" y="530" width="7.8" height="25.3" fill="#fff" stroke="#000" stroke-width="1.4"/>
<line x1="248.85" y1="500.5" x2="248.85" y2="482" stroke="#2a2a2a" stroke-width="1.5"/>
<line x1="246" y1="482.75" x2="251.7" y2="482.75" stroke="#2a2a2a" stroke-width="1.5"/>
<rect x="244.95" y="501.2" width="7.8" height="54.1" fill="#000" stroke="#000" stroke-width="1.4"/>
<line x1="271.92" y1="531.2" x2="271.92" y2="524.6" stroke="#2a2a2a" stroke-width="1.5"/>
<line x1="269.07" y1="525.35" x2="274.77" y2="525.35" stroke="#2a2a2a" stroke-width="1.5"/>
<rect x="268.02" y="531.9" width="7.8" height="23.4" fill="#fff" stroke="#000" stroke-width="1.4"/>
<line x1="284.02" y1="519.1" x2="284.02" y2="507.6" stroke="#2a2a2a" stroke-width="1.5"/>
<line x1="281.17" y1="508.35" x2="286.87" y2="508.35" stroke="#2a2a2a" stroke-width="1.5"/>
<rect x="280.12" y="519.8" width="7.8" height="35.5" fill="#000" stroke="#000" stroke-width="1.4"/>
<text x="143" y="449.23" font-size="11.5" font-weight="bold" font-style="normal" text-anchor="middle" fill="#000">*</text>
<text x="178.1" y="505.53" font-size="11.5" font-weight="bold" font-style="normal" text-anchor="middle" fill="#000">*</text>
<text x="212.8" y="504.33" font-size="11.5" font-weight="bold" font-style="normal" text-anchor="middle" fill="#000">*</text>
<text x="247.4" y="481.23" font-size="11.5" font-weight="bold" font-style="normal" text-anchor="middle" fill="#000">*</text>
<text x="282.8" y="506.43" font-size="11.5" font-weight="bold" font-style="normal" text-anchor="middle" fill="#000">*</text>
<text x="60.6" y="564.5" font-size="8.35" font-weight="bold" font-style="normal" text-anchor="middle" fill="#000">Medium</text>
<text x="96.3" y="564.5" font-size="8.35" font-weight="bold" font-style="normal" text-anchor="middle" fill="#000">LPS</text>
<text x="130.1" y="564.5" font-size="8.35" font-weight="bold" font-style="normal" text-anchor="middle" fill="#000">MDP</text>
<text x="166.6" y="564.5" font-size="8.55" font-weight="bold" font-style="italic" text-anchor="middle" fill="#000">L. amaz</text>
<text x="202.1" y="564.5" font-size="8.55" font-weight="bold" font-style="italic" text-anchor="middle" fill="#000">L. braz</text>
<text x="236.8" y="564.5" font-size="8.55" font-weight="bold" font-style="italic" text-anchor="middle" fill="#000">L. amaz</text>
<text x="272.2" y="564.5" font-size="8.55" font-weight="bold" font-style="italic" text-anchor="middle" fill="#000">L.braz</text>
<line x1="146.3" y1="572.7" x2="214.8" y2="572.7" stroke="#000" stroke-width="1.5"/>
<line x1="220" y1="572.7" x2="288.9" y2="572.7" stroke="#000" stroke-width="1.5"/>
<text x="178.8" y="584.8" font-size="10.6" font-weight="normal" font-style="normal" text-anchor="middle" fill="#000" class="n">Lysate</text>
<text x="260.1" y="584.8" font-size="10.65" font-weight="normal" font-style="normal" text-anchor="middle" fill="#000" class="n">Promastigote</text>
<rect x="258.8" y="414.7" width="11.6" height="11.3" fill="#fff" stroke="#000" stroke-width="1.8"/>
<rect x="258.0" y="430.7" width="13.2" height="13.0" fill="#000"/>
<text x="277" y="422.8" font-size="9.15" font-weight="bold" font-style="normal" text-anchor="start" fill="#000">HEK-293</text>
<text x="276.6" y="440.5" font-size="9" font-weight="bold" font-style="normal" text-anchor="start" fill="#000">HEK + NOD2</text>
</g>
</svg>
</body>
</html>
